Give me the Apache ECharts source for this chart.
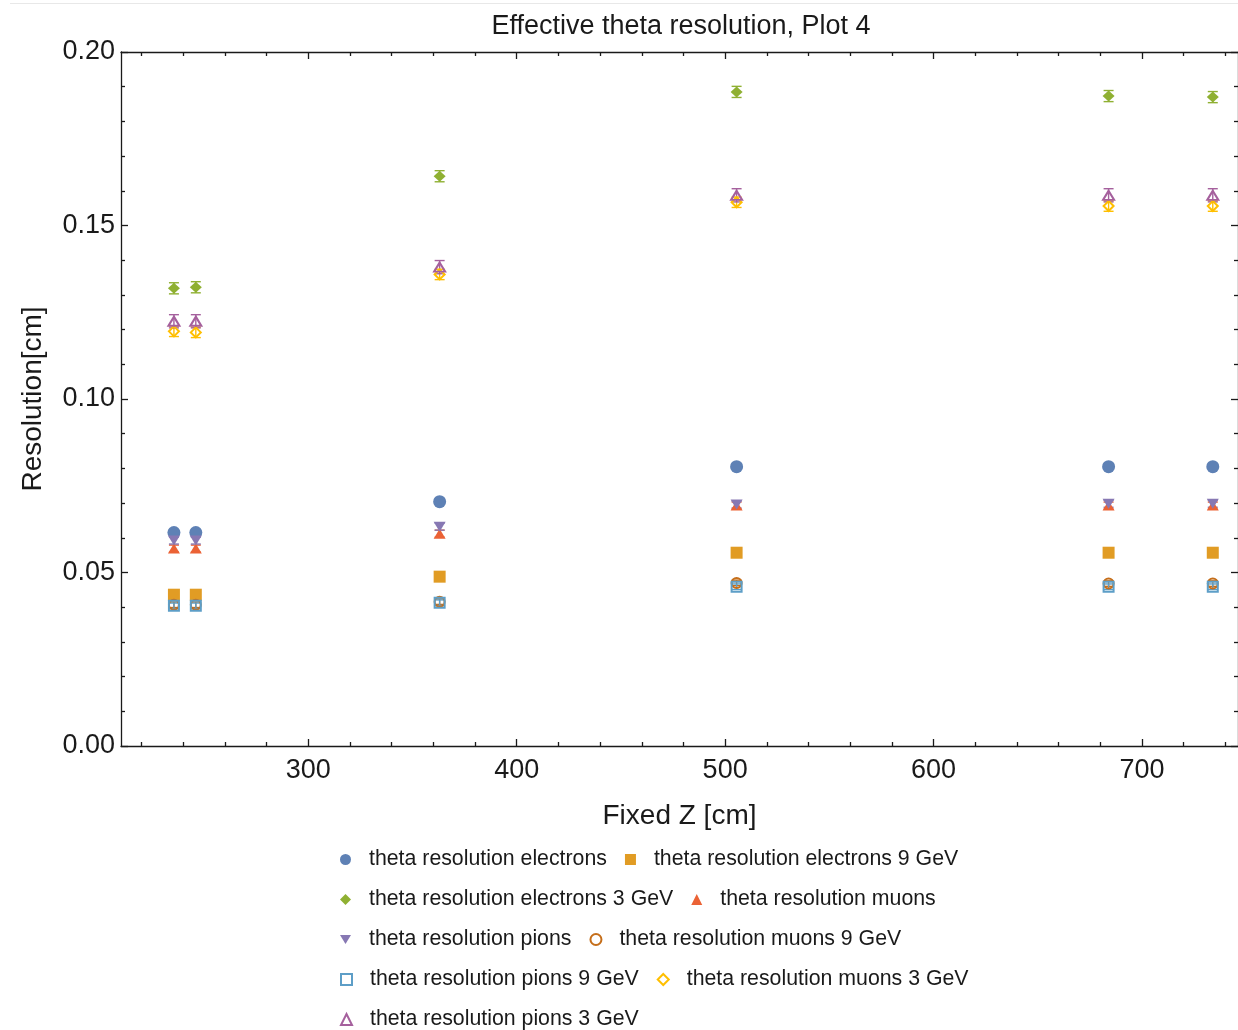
<!DOCTYPE html>
<html>
<head>
<meta charset="utf-8">
<title>Effective theta resolution, Plot 4</title>
<script src="https://cdn.jsdelivr.net/npm/echarts@6/dist/echarts.min.js"></script>
<style>
  html, body { margin: 0; padding: 0; background: #fff; }
  #chart { width: 1238px; height: 1030px; }
</style>
</head>
<body>
<div id="chart"></div>
<script>
// Fixed Z positions [cm] of the measurement planes
const zPositions = [235.5, 246, 363, 505.5, 684, 734];

// Effective theta resolution [cm] per particle sample
const resElectrons    = [0.0615, 0.0615, 0.0704, 0.0805, 0.0805, 0.0805];
const resElectrons9   = [0.0436, 0.0436, 0.0488, 0.0557, 0.0557, 0.0557];
const resElectrons3   = [0.1319, 0.1322, 0.1642, 0.1885, 0.1873, 0.1870];
const resMuons        = [0.0569, 0.0569, 0.0612, 0.0693, 0.0693, 0.0693];
const resPions        = [0.0592, 0.0592, 0.0632, 0.0696, 0.0698, 0.0698];
const resMuons9       = [0.0407, 0.0407, 0.0416, 0.0470, 0.0468, 0.0468];
const resPions9       = [0.0404, 0.0404, 0.0413, 0.0459, 0.0459, 0.0459];
const resMuons3       = [0.1195, 0.1192, 0.1359, 0.1567, 0.1556, 0.1556];
const resPions3       = [0.1224, 0.1224, 0.1380, 0.1587, 0.1587, 0.1587];

// Statistical uncertainties [cm]
const errElectrons    = [0.0008, 0.0008, 0.0008, 0.0008, 0.0008, 0.0008];
const errElectrons9   = [0.0008, 0.0008, 0.0008, 0.0008, 0.0008, 0.0008];
const errElectrons3   = [0.0016, 0.0016, 0.0016, 0.0016, 0.0016, 0.0016];
const errMuons        = [0.0010, 0.0010, 0.0010, 0.0010, 0.0010, 0.0010];
const errPions        = [0.0010, 0.0010, 0.0010, 0.0010, 0.0010, 0.0010];
const errMuons9       = [0.0008, 0.0008, 0.0008, 0.0008, 0.0008, 0.0008];
const errPions9       = [0.0008, 0.0008, 0.0008, 0.0008, 0.0008, 0.0008];
const errMuons3       = [0.0015, 0.0015, 0.0015, 0.0015, 0.0015, 0.0015];
const errPions3       = [0.0019, 0.0019, 0.0019, 0.0019, 0.0019, 0.0019];

const seriesNames = [
  'theta resolution electrons',
  'theta resolution electrons 9 GeV',
  'theta resolution electrons 3 GeV',
  'theta resolution muons',
  'theta resolution pions',
  'theta resolution muons 9 GeV',
  'theta resolution pions 9 GeV',
  'theta resolution muons 3 GeV',
  'theta resolution pions 3 GeV'
];
const seriesValues = [resElectrons, resElectrons9, resElectrons3, resMuons, resPions, resMuons9, resPions9, resMuons3, resPions3];
const seriesErrors = [errElectrons, errElectrons9, errElectrons3, errMuons, errPions, errMuons9, errPions9, errMuons3, errPions3];

// Axis ticks
const xMajorTicks = [300, 400, 500, 600, 700];
const xMinorTicks = [220, 240, 260, 280, 320, 340, 360, 380, 420, 440, 460, 480, 520, 540, 560, 580, 620, 640, 660, 680, 720, 740];
const X_MIN = 210.1, X_MAX = 746.1;

// Downward-pointing triangle used for the pion markers
const DOWN_TRIANGLE = 'path://M0,0 L12,0 L6,10 Z';

// Marker styles (filled first five, open last four)
const markerStyles = [
  { color: '#5E81B5', symbol: 'circle',      size: 13,       open: false },
  { color: '#E19C24', symbol: 'rect',        size: 12,       open: false },
  { color: '#8FB032', symbol: 'diamond',     size: [12, 11], open: false },
  { color: '#EB6235', symbol: 'triangle',    size: [12, 10], open: false },
  { color: '#8778B3', symbol: DOWN_TRIANGLE, size: [12, 10], open: false },
  { color: '#C56E1A', symbol: 'circle',      size: 10,       open: true },
  { color: '#5D9EC7', symbol: 'rect',        size: 10,       open: true },
  { color: '#FFBF00', symbol: 'diamond',     size: 10,       open: true },
  { color: '#A5609D', symbol: 'triangle',    size: [11, 9],  open: true }
];

const FONT = 'Liberation Sans, Arial, Helvetica, sans-serif';
const INK = '#1a1a1a';
const frameLine = { color: '#1a1a1a', width: 1.3 };

function errorBarRenderer(color) {
  return function (params, api) {
    const x = api.value(0), y = api.value(1), e = api.value(2);
    const top = api.coord([x, y + e]);
    const bot = api.coord([x, y - e]);
    const w = 5;
    const style = { stroke: color, lineWidth: 1.4 };
    return {
      type: 'group',
      children: [
        { type: 'line', shape: { x1: top[0], y1: top[1], x2: bot[0], y2: bot[1] }, style: style },
        { type: 'line', shape: { x1: top[0] - w, y1: top[1], x2: top[0] + w, y2: top[1] }, style: style },
        { type: 'line', shape: { x1: bot[0] - w, y1: bot[1], x2: bot[0] + w, y2: bot[1] }, style: style }
      ]
    };
  };
}

const series = [];
seriesNames.forEach(function (name, k) {
  const m = markerStyles[k];
  series.push({
    type: 'custom',
    name: name + ' error',
    renderItem: errorBarRenderer(m.color),
    data: zPositions.map(function (z, i) { return [z, seriesValues[k][i], seriesErrors[k][i]]; }),
    silent: true,
    clip: false
  });
  series.push({
    type: 'scatter',
    name: name,
    symbol: m.symbol,
    symbolSize: m.size,
    itemStyle: m.open
      ? { color: 'rgba(255,255,255,0)', borderColor: m.color, borderWidth: 2, opacity: 1 }
      : { color: m.color, opacity: 1 },
    data: zPositions.map(function (z, i) { return [z, seriesValues[k][i]]; })
  });
});

// Legend laid out two entries per row
const legendRows = [[0, 1], [2, 3], [4, 5], [6, 7], [8]];
const legends = legendRows.map(function (row, r) {
  return {
    data: row.map(function (k) { return { name: seriesNames[k], icon: markerStyles[k].symbol }; }),
    left: 340,
    top: 849 + 40 * r,
    orient: 'horizontal',
    itemWidth: 11,
    itemHeight: 11,
    itemGap: 18,
    selectedMode: false,
    padding: 0,
    textStyle: { fontFamily: FONT, fontSize: 21.3, color: INK, padding: [0, 0, 0, 13] }
  };
});

const xBase = { type: 'value', min: X_MIN, max: X_MAX, splitLine: { show: false } };
const yBase = { type: 'value', min: 0, max: 0.2, interval: 0.05, splitLine: { show: false } };

const option = {
  backgroundColor: '#ffffff',
  animation: false,
  title: {
    text: 'Effective theta resolution, Plot 4',
    left: 681,
    top: 13,
    textAlign: 'center',
    padding: 0,
    textStyle: { fontFamily: FONT, fontSize: 27, fontWeight: 'normal', color: INK }
  },
  legend: legends,
  grid: { left: 121, right: 0, top: 52, bottom: 284, containLabel: false },
  xAxis: [
    Object.assign({}, xBase, {
      position: 'bottom',
      axisLine: { show: true, lineStyle: frameLine },
      axisTick: { show: true, inside: true, length: 7, customValues: xMajorTicks, lineStyle: frameLine },
      axisLabel: { customValues: xMajorTicks, fontFamily: FONT, fontSize: 27, color: INK, margin: 11 },
      name: 'Fixed Z [cm]',
      nameLocation: 'middle',
      nameGap: 56,
      nameTextStyle: { fontFamily: FONT, fontSize: 28, color: INK }
    }),
    Object.assign({}, xBase, {
      position: 'bottom',
      axisLine: { show: false },
      axisTick: { show: true, inside: true, length: 4, customValues: xMinorTicks, lineStyle: frameLine },
      axisLabel: { show: false }
    }),
    Object.assign({}, xBase, {
      position: 'top',
      axisLine: { show: true, lineStyle: frameLine },
      axisTick: { show: true, inside: true, length: 7, customValues: xMajorTicks, lineStyle: frameLine },
      axisLabel: { show: false }
    }),
    Object.assign({}, xBase, {
      position: 'top',
      axisLine: { show: false },
      axisTick: { show: true, inside: true, length: 4, customValues: xMinorTicks, lineStyle: frameLine },
      axisLabel: { show: false }
    })
  ],
  yAxis: [
    Object.assign({}, yBase, {
      position: 'left',
      axisLine: { show: true, lineStyle: frameLine },
      axisTick: { show: true, inside: true, length: 7, lineStyle: frameLine },
      minorTick: { show: true, splitNumber: 5, length: 4, lineStyle: frameLine },
      axisLabel: {
        fontFamily: FONT, fontSize: 27, color: INK, margin: 6,
        formatter: function (v) { return v.toFixed(2); }
      },
      name: 'Resolution[cm]',
      nameLocation: 'middle',
      nameRotate: 90,
      nameGap: 74,
      nameTextStyle: { fontFamily: FONT, fontSize: 28, color: INK }
    }),
    Object.assign({}, yBase, {
      position: 'right',
      axisLine: { show: true, lineStyle: frameLine },
      axisTick: { show: true, inside: true, length: 7, lineStyle: frameLine },
      minorTick: { show: true, splitNumber: 5, length: 4, lineStyle: frameLine },
      axisLabel: { show: false }
    })
  ],
  graphic: [
    { type: 'line', shape: { x1: 10, y1: 3.5, x2: 1238, y2: 3.5 }, style: { stroke: '#e8e8e8', lineWidth: 1 }, silent: true }
  ],
  series: series
};

const chart = echarts.init(document.getElementById('chart'), null, { renderer: 'canvas' });
chart.setOption(option);
</script>
</body>
</html>
